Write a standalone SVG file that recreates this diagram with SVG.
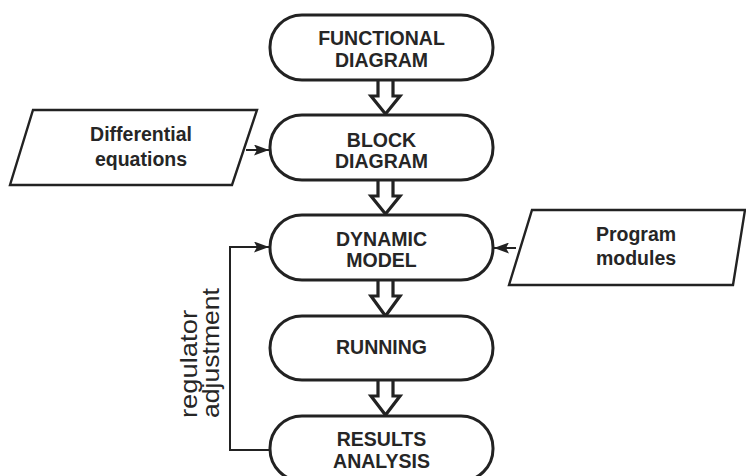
<svg xmlns="http://www.w3.org/2000/svg" width="746" height="476" viewBox="0 0 746 476">
<defs>
<style>
.box{fill:#fff;stroke:#222;stroke-width:3}
.para{fill:#fff;stroke:#222;stroke-width:2.4}
.t{font-family:"Liberation Sans",Arial,sans-serif;font-weight:bold;font-size:19.5px;fill:#262626;text-anchor:middle}
.r{font-family:"Liberation Sans",Arial,sans-serif;font-size:24px;fill:#262626}
.ha{fill:#fff;stroke:#222;stroke-width:3.2;stroke-linejoin:miter}
.ln{fill:none;stroke:#222;stroke-width:2}
</style>
<marker id="ah" viewBox="0 0 15 11" refX="15" refY="5.5" markerWidth="15" markerHeight="11" markerUnits="userSpaceOnUse" orient="auto">
<path d="M0,0 L15,5.5 L0,11 L3,5.5 Z" fill="#222"/>
</marker>
</defs>
<rect width="746" height="476" fill="#fff"/>
<g id="connectors">
<path class="ha" d="M378,80 V96 H371 L385.5,114 L400,96 H393 V80"/>
<path class="ha" d="M378,180 V196 H371 L385.5,214 L400,196 H393 V180"/>
<path class="ha" d="M378,280 V296 H371 L385.5,316 L400,296 H393 V280"/>
<path class="ha" d="M378,380 V396 H371 L385.5,415 L400,396 H393 V380"/>
<path class="ln" d="M246,150 H269" marker-end="url(#ah)"/>
<path class="ln" d="M516,248 H494" marker-end="url(#ah)"/>
<path class="ln" d="M270,450 H230 V247 H269" marker-end="url(#ah)"/>
</g>
<g id="n-functional">
<rect class="box" x="270" y="15" width="223" height="65" rx="32"/>
<text class="t" x="381.5" y="45">FUNCTIONAL</text>
<text class="t" x="381.5" y="67">DIAGRAM</text>
</g>
<g id="n-block">
<rect class="box" x="270" y="115" width="223" height="65" rx="32"/>
<text class="t" x="381.5" y="147">BLOCK</text>
<text class="t" x="381.5" y="168">DIAGRAM</text>
</g>
<g id="n-dynamic">
<rect class="box" x="270" y="215" width="223" height="65" rx="32"/>
<text class="t" x="381.5" y="246">DYNAMIC</text>
<text class="t" x="381.5" y="267">MODEL</text>
</g>
<g id="n-running">
<rect class="box" x="270" y="316" width="223" height="64" rx="32"/>
<text class="t" x="381.5" y="354">RUNNING</text>
</g>
<g id="n-results">
<rect class="box" x="270" y="416" width="223" height="65" rx="32"/>
<text class="t" x="381.5" y="446">RESULTS</text>
<text class="t" x="381.5" y="468">ANALYSIS</text>
</g>
<g id="n-diffeq">
<polygon class="para" points="33,110 257,110 232,185 10,185"/>
<text class="t" x="141" y="141">Differential</text>
<text class="t" x="141" y="166">equations</text>
</g>
<g id="n-program">
<polygon class="para" points="532,210 745,210 733,285 509,285"/>
<text class="t" x="636" y="241">Program</text>
<text class="t" x="636" y="265">modules</text>
</g>
<g id="label-regulator">
<text class="r" transform="translate(197,418) rotate(-90)" textLength="108" lengthAdjust="spacingAndGlyphs">regulator</text>
<text class="r" transform="translate(219,418) rotate(-90)" textLength="130" lengthAdjust="spacingAndGlyphs">adjustment</text>
</g>
</svg>
